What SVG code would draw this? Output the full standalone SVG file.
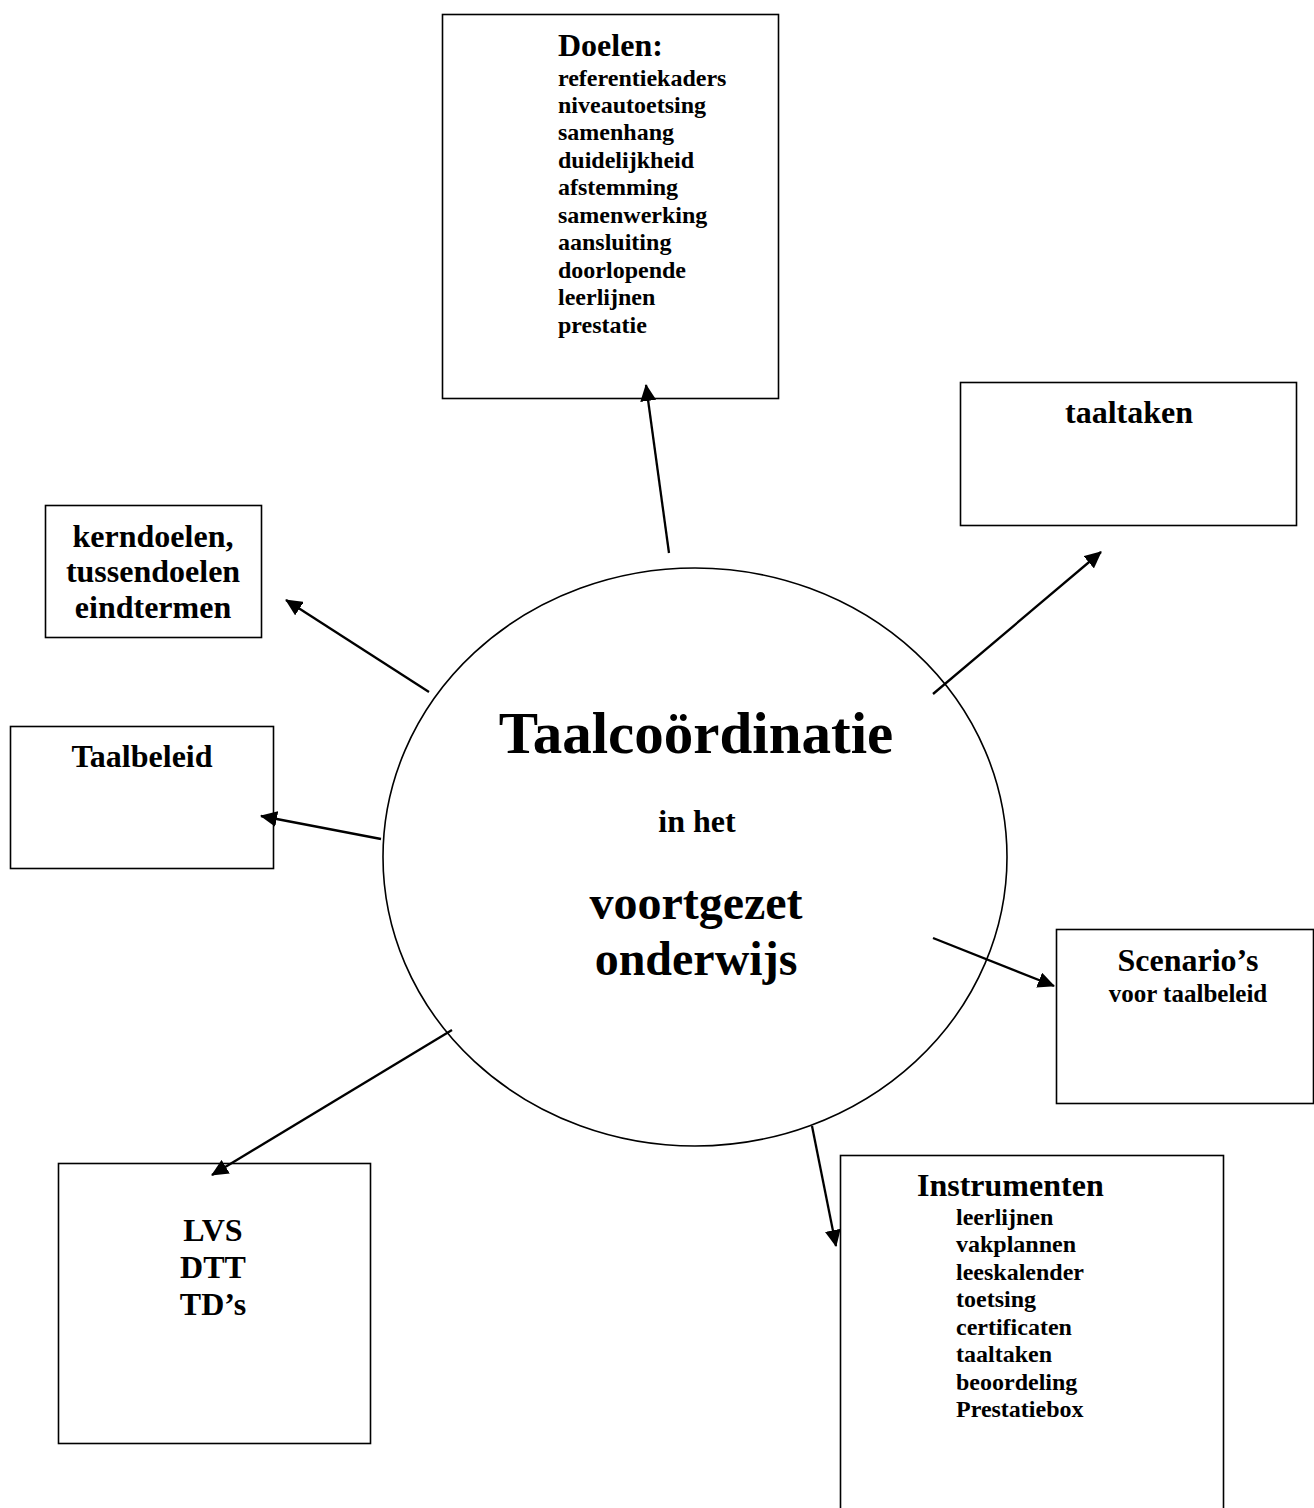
<svg xmlns="http://www.w3.org/2000/svg" width="1314" height="1508" viewBox="0 0 1314 1508">
<style>
text{font-family:"Liberation Serif","Times New Roman",serif;font-weight:bold;fill:#000}
.box{fill:#fff;stroke:#000;stroke-width:1.6}
.t32{font-size:32px}
.t24{font-size:24px}
.mid{text-anchor:middle}
.conn line{stroke:#000;stroke-width:2.3}
</style>
<defs>
<marker id="ah" markerUnits="userSpaceOnUse" markerWidth="17" markerHeight="16" refX="16" refY="8" orient="auto">
<path d="M0,0 L17,8 L0,16 z" fill="#000"/>
</marker>
</defs>
<rect width="1314" height="1508" fill="#fff"/>
<g id="doelen">
<rect class="box" x="442.5" y="14.5" width="336" height="384"/>
<text class="t32" x="558" y="56">Doelen:</text>
<text class="t24" x="558" y="86">referentiekaders</text>
<text class="t24" x="558" y="113">niveautoetsing</text>
<text class="t24" x="558" y="140">samenhang</text>
<text class="t24" x="558" y="168">duidelijkheid</text>
<text class="t24" x="558" y="195">afstemming</text>
<text class="t24" x="558" y="223">samenwerking</text>
<text class="t24" x="558" y="250">aansluiting</text>
<text class="t24" x="558" y="278">doorlopende</text>
<text class="t24" x="558" y="305">leerlijnen</text>
<text class="t24" x="558" y="333">prestatie</text>
</g>
<g id="taaltaken">
<rect class="box" x="960.5" y="382.5" width="336" height="143"/>
<text class="t32 mid" x="1129" y="423">taaltaken</text>
</g>
<g id="kerndoelen">
<rect class="box" x="45.5" y="505.5" width="216" height="132"/>
<text class="t32 mid" x="153" y="547">kerndoelen,</text>
<text class="t32 mid" x="153" y="582">tussendoelen</text>
<text class="t32 mid" x="153" y="618">eindtermen</text>
</g>
<g id="taalbeleid">
<rect class="box" x="10.5" y="726.5" width="263" height="142"/>
<text class="t32 mid" x="142" y="767">Taalbeleid</text>
</g>
<g id="scenarios">
<rect class="box" x="1056.5" y="929.5" width="257" height="174"/>
<text class="t32 mid" x="1188" y="971">Scenario’s</text>
<text class="mid" style="font-size:25px" x="1188" y="1002">voor taalbeleid</text>
</g>
<g id="instrumenten">
<rect class="box" x="840.5" y="1155.5" width="383" height="360"/>
<text class="t32" x="917" y="1196">Instrumenten</text>
<text class="t24" x="956" y="1225">leerlijnen</text>
<text class="t24" x="956" y="1252">vakplannen</text>
<text class="t24" x="956" y="1280">leeskalender</text>
<text class="t24" x="956" y="1307">toetsing</text>
<text class="t24" x="956" y="1335">certificaten</text>
<text class="t24" x="956" y="1362">taaltaken</text>
<text class="t24" x="956" y="1390">beoordeling</text>
<text class="t24" x="956" y="1417">Prestatiebox</text>
</g>
<g id="lvs">
<rect class="box" x="58.5" y="1163.5" width="312" height="280"/>
<text class="t32 mid" x="213" y="1241">LVS</text>
<text class="t32 mid" x="213" y="1278">DTT</text>
<text class="t32 mid" x="213" y="1315">TD’s</text>
</g>
<g id="center">
<ellipse cx="695" cy="857" rx="312" ry="289" fill="none" stroke="#000" stroke-width="1.6"/>
<text class="mid" style="font-size:59px" x="696" y="753">Taalcoördinatie</text>
<text class="t32 mid" x="697" y="832">in het</text>
<text class="mid" style="font-size:48px" x="696" y="919">voortgezet</text>
<text class="mid" style="font-size:48px" x="696" y="975">onderwijs</text>
</g>
<g id="connectors" class="conn">
<line x1="669" y1="553" x2="646" y2="385" marker-end="url(#ah)"/>
<line x1="933" y1="694" x2="1101" y2="552" marker-end="url(#ah)"/>
<line x1="429" y1="692" x2="286" y2="600" marker-end="url(#ah)"/>
<line x1="381" y1="839" x2="261" y2="816" marker-end="url(#ah)"/>
<line x1="933" y1="938" x2="1054" y2="986" marker-end="url(#ah)"/>
<line x1="452" y1="1030" x2="212" y2="1175" marker-end="url(#ah)"/>
<line x1="812" y1="1126" x2="836" y2="1246" marker-end="url(#ah)"/>
</g>
</svg>
